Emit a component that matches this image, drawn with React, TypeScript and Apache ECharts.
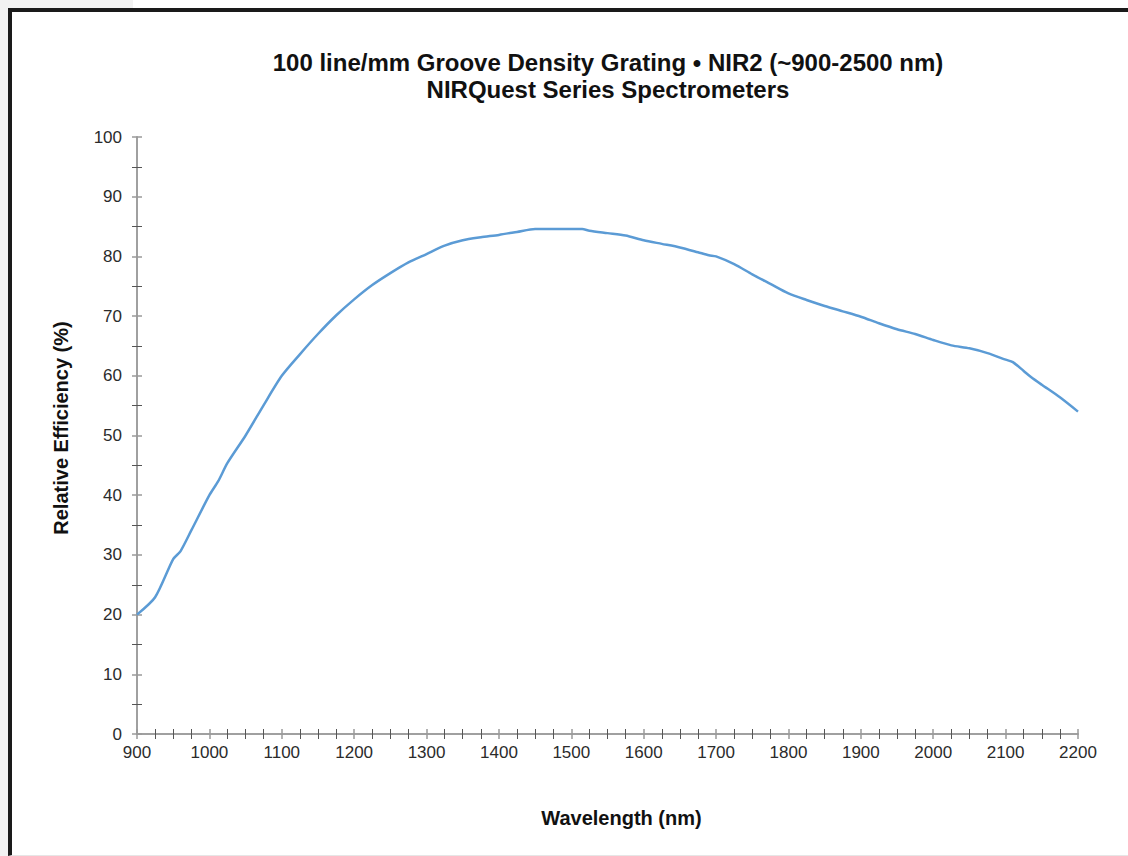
import React, { useEffect, useRef } from "react";
import * as echarts from "echarts";

const titleLines = [
  "100 line/mm Groove Density Grating \u2022 NIR2 (~900-2500 nm)",
  "NIRQuest Series Spectrometers",
];
const xAxisName = "Wavelength (nm)";
const yAxisName = "Relative Efficiency (%)";

const wavelengths = [
  900, 925, 950, 960, 975, 1000, 1012, 1025, 1050, 1075, 1100, 1125, 1150, 1175,
  1200, 1225, 1250, 1275, 1300, 1325, 1350, 1375, 1400, 1425, 1450, 1475, 1500,
  1515, 1525, 1550, 1575, 1600, 1625, 1650, 1675, 1690, 1700, 1725, 1750, 1775,
  1800, 1825, 1850, 1875, 1900, 1925, 1950, 1975, 2000, 2025, 2050, 2075, 2100,
  2110, 2125, 2135, 2150, 2175, 2200,
];
const efficiency = [
  20.0, 22.9, 29.3, 30.6, 34.1, 40.0, 42.3, 45.4, 50.0, 55.1, 60.0, 63.6, 67.0,
  70.1, 72.8, 75.2, 77.2, 79.0, 80.4, 81.8, 82.7, 83.2, 83.6, 84.1, 84.6, 84.6,
  84.6, 84.6, 84.3, 83.9, 83.5, 82.7, 82.1, 81.5, 80.7, 80.2, 80.0, 78.7, 77.0,
  75.4, 73.8, 72.7, 71.7, 70.8, 69.9, 68.8, 67.8, 67.0, 66.0, 65.1, 64.6, 63.8,
  62.7, 62.3, 60.8, 59.8, 58.5, 56.4, 54.0,
];

const FONT = "'Liberation Sans', Arial, Helvetica, sans-serif";

export default function App() {
  const ref = useRef<HTMLDivElement>(null);

  useEffect(() => {
    if (!ref.current) return;
    const chart = echarts.init(ref.current, null, { renderer: "svg" });
    const data = wavelengths.map((w, i) => [w, efficiency[i]]);

    const axisColor = "#9a9a9a";
    const minorColor = "#555555";
    const labelStyle = {
      color: "#2b2b2b",
      fontSize: 17,
      fontFamily: FONT,
      formatter: (v: number) => String(v),
    };

    const xBase = {
      type: "value" as const,
      min: 900,
      max: 2200,
      interval: 100,
      splitLine: { show: false },
      axisLine: { show: true, lineStyle: { color: axisColor, width: 1.5 } },
    };
    const yBase = {
      type: "value" as const,
      min: 0,
      max: 100,
      interval: 10,
      splitLine: { show: false },
      axisLine: { show: true, lineStyle: { color: axisColor, width: 1.5 } },
    };

    chart.setOption({
      animation: false,
      backgroundColor: "transparent",
      title: {
        text: titleLines.join("\n"),
        left: 603,
        textAlign: "center",
        top: 44,
        textStyle: {
          fontFamily: FONT,
          fontWeight: "bold",
          fontSize: 24,
          lineHeight: 27,
          color: "#111111",
        },
      },
      grid: { left: 137, right: 50, top: 137, bottom: 122, containLabel: false },
      xAxis: [
        {
          ...xBase,
          name: xAxisName,
          nameLocation: "middle",
          nameGap: 74,
          nameTextStyle: {
            fontFamily: FONT,
            fontWeight: "bold",
            fontSize: 20,
            color: "#111111",
            padding: [0, 0, 0, 28],
          },
          axisTick: { show: true, inside: false, length: 5, lineStyle: { color: axisColor, width: 1.5 } },
          minorTick: { show: true, splitNumber: 4, length: 5, lineStyle: { color: minorColor, width: 1 } },
          axisLabel: { ...labelStyle, margin: 10 },
        },
        {
          ...xBase,
          position: "bottom",
          axisTick: { show: true, inside: true, length: 5, lineStyle: { color: axisColor, width: 1.5 } },
          minorTick: { show: true, splitNumber: 4, length: 5, lineStyle: { color: minorColor, width: 1 } },
          axisLabel: { show: false },
        },
      ],
      yAxis: [
        {
          ...yBase,
          name: yAxisName,
          nameLocation: "middle",
          nameGap: 66,
          nameTextStyle: {
            fontFamily: FONT,
            fontWeight: "bold",
            fontSize: 20,
            color: "#111111",
            padding: [0, 0, 0, 15],
          },
          axisTick: { show: true, inside: false, length: 5, lineStyle: { color: axisColor, width: 1.5 } },
          minorTick: { show: true, splitNumber: 2, length: 5, lineStyle: { color: minorColor, width: 1 } },
          axisLabel: { ...labelStyle, margin: 15 },
        },
        {
          ...yBase,
          position: "left",
          axisTick: { show: true, inside: true, length: 5, lineStyle: { color: axisColor, width: 1.5 } },
          minorTick: { show: true, splitNumber: 2, length: 5, lineStyle: { color: minorColor, width: 1 } },
          axisLabel: { show: false },
        },
      ],
      series: [
        {
          type: "line",
          name: "Relative Efficiency",
          data,
          xAxisIndex: 0,
          yAxisIndex: 0,
          showSymbol: false,
          smooth: 0.25,
          lineStyle: { color: "#5b9bd5", width: 2.5 },
          z: 5,
        },
      ],
    });

    return () => chart.dispose();
  }, []);

  return (
    <div style={{ position: "fixed", left: 0, top: 0, width: 1128, height: 856, background: "#ffffff", overflow: "hidden" }}>
      <div style={{ position: "absolute", left: 0, top: 0, width: 133, height: 8, background: "#f2f2f2" }} />
      <div style={{ position: "absolute", left: 0, top: 0, width: 8, height: 856, background: "#f2f2f2" }} />
      <div
        style={{
          position: "absolute",
          left: 8,
          top: 8,
          width: 1120,
          height: 848,
          boxSizing: "border-box",
          borderTop: "4px solid #1a1a1a",
          borderLeft: "4px solid #1a1a1a",
          borderBottom: "1px solid #e6e6e6",
        }}
      />
      <div ref={ref} style={{ position: "absolute", left: 0, top: 0, width: 1128, height: 856 }} />
    </div>
  );
}
